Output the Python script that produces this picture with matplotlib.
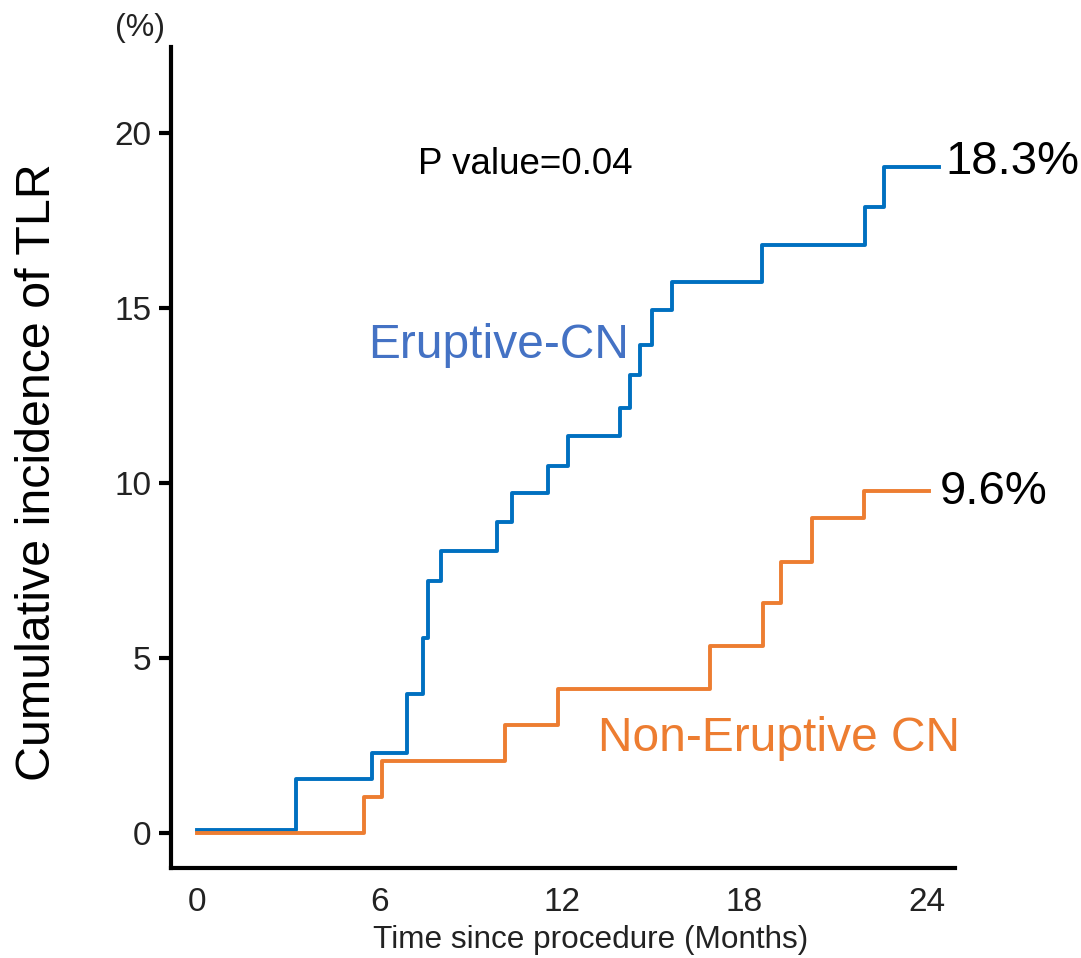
import matplotlib
matplotlib.use("Agg")
import matplotlib.pyplot as plt

plt.rcParams["font.family"] = ["Liberation Sans", "DejaVu Sans"]

# Cumulative incidence of TLR (%), step points (month, value)
eruptive_t = [0, 3.25, 5.75, 6.9, 7.43, 7.59, 8.02, 9.86, 10.36, 11.54, 12.2,
              13.91, 14.23, 14.56, 14.96, 15.62, 18.57, 21.96, 22.58, 24.39]
eruptive_v = [0.1, 1.55, 2.3, 3.97, 5.57, 7.2, 8.06, 8.89, 9.71, 10.5, 11.34,
              12.14, 13.09, 13.94, 14.94, 15.74, 16.8, 17.89, 19.03, 19.03]

non_eruptive_t = [0, 5.49, 6.08, 10.12, 11.87, 16.86, 18.61, 19.2, 20.22, 21.93, 24.06]
non_eruptive_v = [0, 1.03, 2.06, 3.09, 4.11, 5.34, 6.57, 7.74, 9.0, 9.77, 9.77]

x_ticks = [0, 6, 12, 18, 24]
y_ticks = [0, 5, 10, 15, 20]

BLUE = "#0070C0"
ORANGE = "#ED7D31"

fig = plt.figure(figsize=(10.81, 9.58), dpi=100)
ax = fig.add_axes([0.1582, 0.0939, 0.7252, 0.857])

ax.step(eruptive_t, eruptive_v, where="post", color=BLUE, lw=2.8)
ax.step(non_eruptive_t, non_eruptive_v, where="post", color=ORANGE, lw=2.8)

ax.set_xlim(-0.85, 24.92)
ax.set_ylim(-1.0, 22.46)

ax.spines["top"].set_visible(False)
ax.spines["right"].set_visible(False)
for s in ("left", "bottom"):
    ax.spines[s].set_linewidth(3)

ax.set_xticks(x_ticks)
ax.set_yticks(y_ticks)
ax.tick_params(axis="x", length=0, pad=14, labelsize=24, labelcolor="#222222")
ax.tick_params(axis="y", length=9, width=3, pad=5, labelsize=24, labelcolor="#222222")

# annotations
ax.text(24.6, 19.17, "18.3%", fontsize=34, va="center", ha="left", clip_on=False)
ax.text(24.42, 9.74, "9.6%", fontsize=34, va="center", ha="left", clip_on=False)
ax.text(5.62, 13.94, "Eruptive-CN", fontsize=34.5, color="#4472C4", va="center", ha="left")
ax.text(13.18, 2.71, "Non-Eruptive CN", fontsize=34.5, color=ORANGE, va="center", ha="left")
ax.text(7.26, 19.09, "P value=0.04", fontsize=26.5, va="center", ha="left")
ax.text(-1.87, 23.0, "(%)", fontsize=23, va="center", ha="center", clip_on=False,
        color="#222222")

fig.text(591 / 1081, 1 - 940 / 958, "Time since procedure (Months)",
         fontsize=22.7, ha="center", va="center", color="#222222")
fig.text(38 / 1081, 1 - 472 / 958, "Cumulative incidence of TLR",
         fontsize=34.8, rotation=90, ha="center", va="center")

fig.savefig("out.png", dpi=100)
